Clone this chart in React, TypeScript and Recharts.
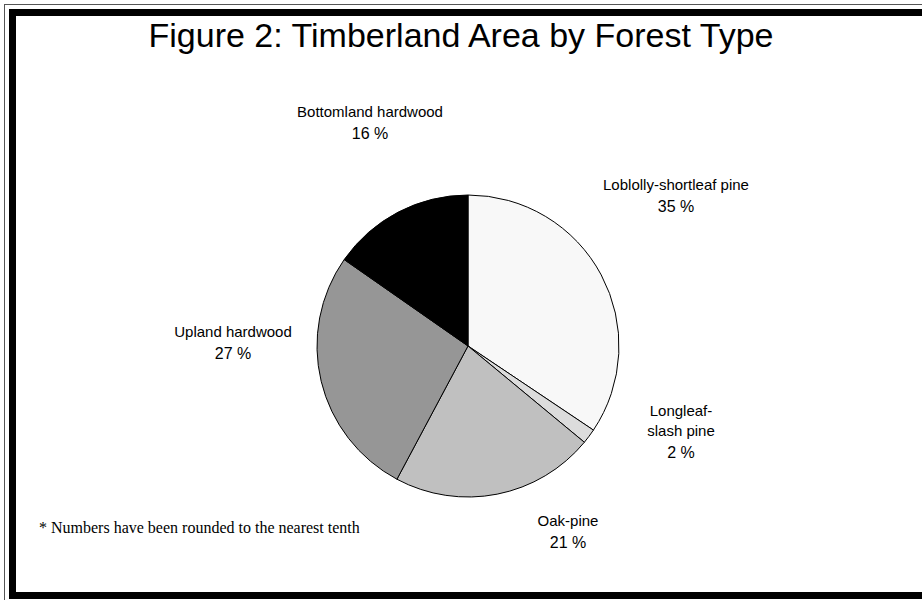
import React from "react";
import { PieChart, Pie, Cell } from "recharts";

// ---- data ----
const forestTypes = [
  "Loblolly-shortleaf pine",
  "Longleaf-\nslash pine",
  "Oak-pine",
  "Upland hardwood",
  "Bottomland hardwood",
];
const areaShares = [34.4, 1.6, 21.8, 26.9, 15.3];
const percentLabels = [35, 2, 21, 27, 16];
const sliceColors = ["#f8f8f8", "#dcdcdc", "#c0c0c0", "#969696", "#000000"];

const titleText = "Figure 2: Timberland Area by Forest Type";
const footnoteText = "* Numbers have been rounded to the nearest tenth";

const chartData = forestTypes.map((name, i) => ({
  name,
  value: areaShares[i],
  pct: percentLabels[i],
}));

// ---- layout (label block offsets from the pie centre) ----
const LABEL_OFFSETS = [
  { dx: 208, dy: -156 },
  { dx: 213, dy: 70 },
  { dx: 100, dy: 180 },
  { dx: -235, dy: -9 },
  { dx: -98, dy: -229 },
];
const SANS = "'Liberation Sans', Arial, Helvetica, sans-serif";
const SERIF = "'Liberation Serif', 'Times New Roman', serif";

const renderLabel = (props: any) => {
  const { cx, cy, index } = props;
  const d = chartData[index];
  const off = LABEL_OFFSETS[index];
  const x = cx + off.dx;
  const y0 = cy + off.dy;
  const lines = d.name.split("\n");
  return (
    <g key={`lbl-${index}`}>
      {lines.map((ln: string, k: number) => (
        <text
          key={k}
          x={x}
          y={y0 + k * 20}
          textAnchor="middle"
          fontFamily={SANS}
          fontSize={15}
          fill="#000"
        >
          {ln}
        </text>
      ))}
      <text
        x={x}
        y={y0 + (lines.length - 1) * 20 + 22}
        textAnchor="middle"
        fontFamily={SANS}
        fontSize={16}
        fill="#000"
      >
        {`${d.pct} %`}
      </text>
    </g>
  );
};

export default function App() {
  return (
    <div
      style={{
        position: "absolute",
        left: 0,
        top: 0,
        width: 922,
        height: 600,
        overflow: "hidden",
        background: "#fff",
      }}
    >
      {/* outer thin frame */}
      <div
        style={{
          position: "absolute",
          left: 4,
          top: 4,
          width: 1000,
          height: 1000,
          border: "1.5px solid #555",
          boxSizing: "border-box",
        }}
      />
      {/* inner thick frame */}
      <div
        style={{
          position: "absolute",
          left: 9,
          top: 9,
          width: 1000,
          height: 590,
          border: "7px solid #000",
          boxSizing: "border-box",
        }}
      />
      <div style={{ position: "absolute", left: 0, top: 0 }}>
        <PieChart width={922} height={600} margin={{ top: 0, right: 0, bottom: 0, left: 0 }}>
          <Pie
            data={chartData}
            dataKey="value"
            nameKey="name"
            cx={468}
            cy={346}
            outerRadius={151}
            startAngle={90}
            endAngle={-270}
            stroke="#000"
            strokeWidth={1}
            label={renderLabel}
            labelLine={false}
            isAnimationActive={false}
          >
            {chartData.map((_, i) => (
              <Cell key={i} fill={sliceColors[i]} stroke="#000" strokeWidth={1} />
            ))}
          </Pie>
        </PieChart>
      </div>
      <svg
        width={922}
        height={600}
        style={{ position: "absolute", left: 0, top: 0, pointerEvents: "none" }}
      >
        <text x={461} y={47} textAnchor="middle" fontFamily={SANS} fontSize={34} fill="#000">
          {titleText}
        </text>
        <text x={39} y={533} fontFamily={SERIF} fontSize={16} fill="#000">
          {footnoteText}
        </text>
      </svg>
    </div>
  );
}
